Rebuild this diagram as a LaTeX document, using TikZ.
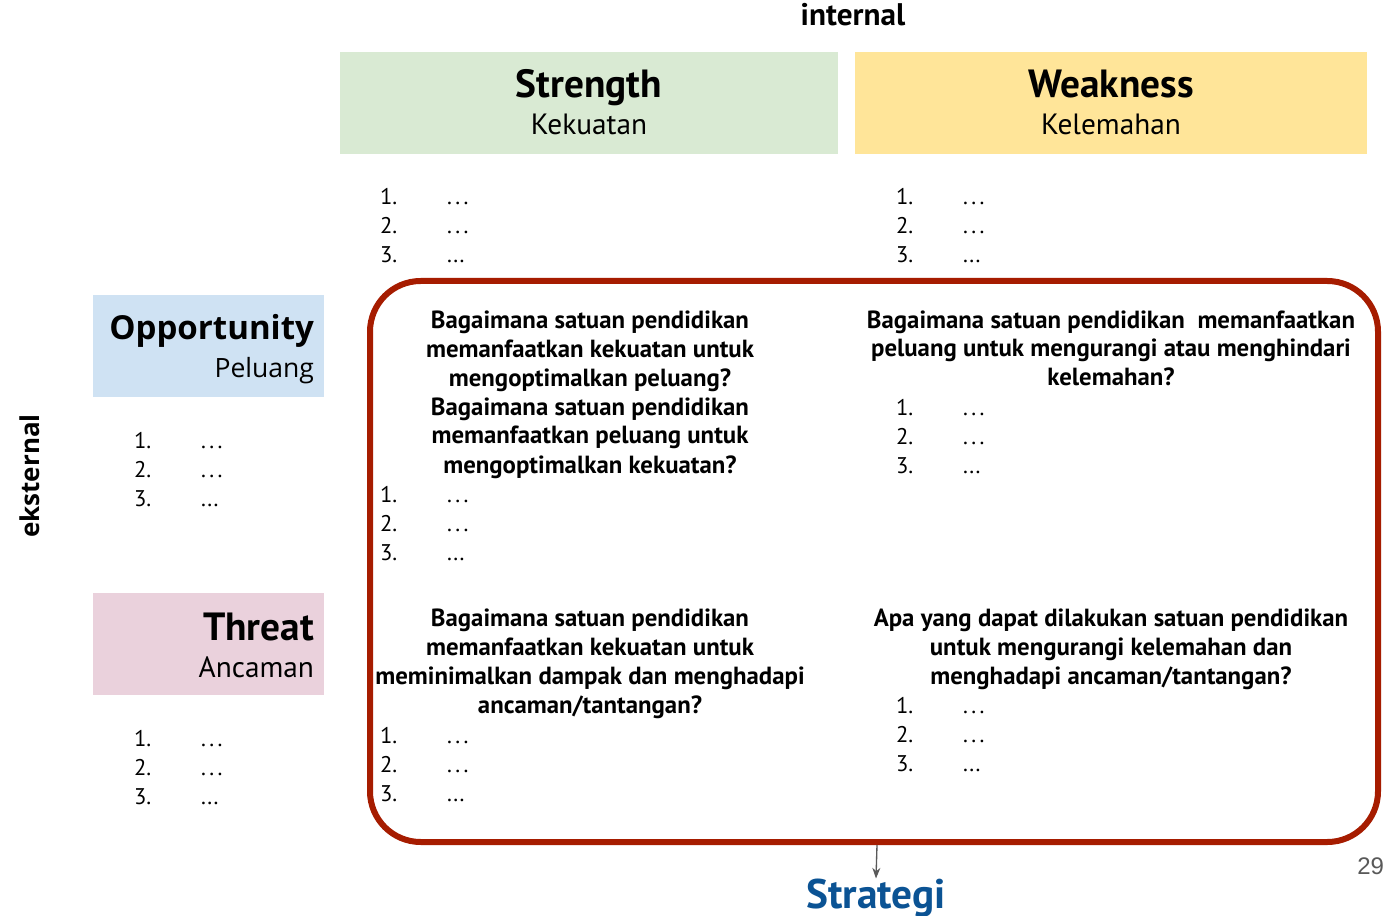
\documentclass[tikz,border=0pt]{standalone}
\usepackage{fontspec}
\setmainfont{PT Sans}
\newfontfamily\osans{Open Sans}
\newfontfamily\arialf{Liberation Sans}
\usetikzlibrary{arrows.meta}
\definecolor{sgreen}{HTML}{D9EAD3}
\definecolor{wyellow}{HTML}{FFE599}
\definecolor{oblue}{HTML}{CFE2F3}
\definecolor{tpink}{HTML}{EAD1DC}
\definecolor{boxred}{HTML}{A61C00}
\definecolor{stratblue}{HTML}{0B5394}
\definecolor{pggray}{HTML}{595959}
\newcommand{\wdots}{.\kern2.6pt.\kern2.6pt.}
\newcommand{\swotlist}[3]{%
  \node[lst,anchor=base west] (#3n1) at (#1,#2) {1.};
  \node[lst,anchor=base west] (#3d1) at (#1+67,#2) {\wdots};
  \node[lst,anchor=base west] (#3n2) at (#1,#2+29) {2.};
  \node[lst,anchor=base west] (#3d2) at (#1+67,#2+29) {\wdots};
  \node[lst,anchor=base west] (#3n3) at (#1,#2+58) {3.};
  \node[lst,anchor=base west] (#3d3) at (#1+67,#2+58) {...};
}
\begin{document}
\begin{tikzpicture}[x=0.75pt,y=-0.75pt,
  every node/.style={inner sep=0pt,outer sep=0pt},
  title/.style={font=\fontsize{29.5pt}{32pt}\selectfont\bfseries},
  subtitle/.style={font=\fontsize{22pt}{24pt}\selectfont},
  lst/.style={font=\fontsize{17pt}{20pt}\selectfont},
  question/.style={font=\fontsize{18.6pt}{21.75pt}\selectfont\bfseries,align=center},
  axis/.style={font=\fontsize{23.4pt}{26pt}\selectfont\bfseries}]
\path[use as bounding box,fill=white] (0,0) rectangle (1386,916);
% axis labels
\node[axis,anchor=base] (internal) at (853,26) {internal};
\node[font=\osans\fontsize{19.5pt}{22pt}\selectfont\bfseries,rotate=90,anchor=base] (eksternal) at (39,476) {eksternal};
% category boxes
\fill[sgreen] (340,52) rectangle (838,154) coordinate (sbox);
\fill[wyellow] (855,52) rectangle (1367,154) coordinate (wbox);
\fill[oblue] (93,295) rectangle (324,397) coordinate (obox);
\fill[tpink] (93,593) rectangle (324,695) coordinate (tbox);
\node[title,anchor=base] (strength) at (589,98) {Strength};
\node[subtitle,anchor=base] (kekuatan) at (589,135) {Kekuatan};
\node[title,anchor=base] (weakness) at (1111,98) {Weakness};
\node[subtitle,anchor=base] (kelemahan) at (1111,135) {Kelemahan};
\node[font=\osans\fontsize{24.8pt}{28pt}\selectfont\bfseries,anchor=base east] (opportunity) at (314,340) {Opportunity};
\node[font=\osans\fontsize{19.9pt}{22pt}\selectfont,anchor=base east] (peluang) at (314,378) {Peluang};
\node[title,anchor=base east] (threat) at (314,640) {Threat};
\node[subtitle,anchor=base east] (ancaman) at (314,677) {Ancaman};
% lists
\swotlist{380}{205}{sl}
\swotlist{896}{205}{wl}
\swotlist{134}{448}{ol}
\swotlist{134}{746}{tl}
% strategy frame
\draw[boxred,line width=4.5pt,rounded corners=38pt] (370,281) rectangle (1378,842);
\coordinate (frame) at (877,842);
\node[question,anchor=base] (so) at (590,473) {Bagaimana satuan pendidikan\\memanfaatkan kekuatan untuk\\mengoptimalkan peluang?\\Bagaimana satuan pendidikan\\memanfaatkan peluang untuk\\mengoptimalkan kekuatan?};
\swotlist{380}{502}{sol}
\node[question,anchor=base] (wo) at (1111,386) {Bagaimana satuan pendidikan~ memanfaatkan\\peluang untuk mengurangi atau menghindari\\kelemahan?};
\swotlist{896}{416}{wol}
\node[question,anchor=base] (st) at (590,713) {Bagaimana satuan pendidikan\\memanfaatkan kekuatan untuk\\meminimalkan dampak dan menghadapi\\ancaman/tantangan?};
\swotlist{380}{743}{stl}
\node[question,anchor=base] (wt) at (1111,684) {Apa yang dapat dilakukan satuan pendidikan\\untuk mengurangi kelemahan dan\\menghadapi ancaman/tantangan?};
\swotlist{896}{713}{wtl}
% result
\node[font=\fontsize{31pt}{34pt}\selectfont\bfseries,text=stratblue,anchor=base] (strategi) at (876,908) {Strategi};
\draw[pggray,line width=1pt,-{Stealth[length=8pt,width=6pt]}] (frame) ++(0,3) -- (strategi.north);
\node[font=\arialf\fontsize{18pt}{20pt}\selectfont,text=pggray,anchor=base east] (page) at (1384,874) {29};
\end{tikzpicture}
\end{document}
